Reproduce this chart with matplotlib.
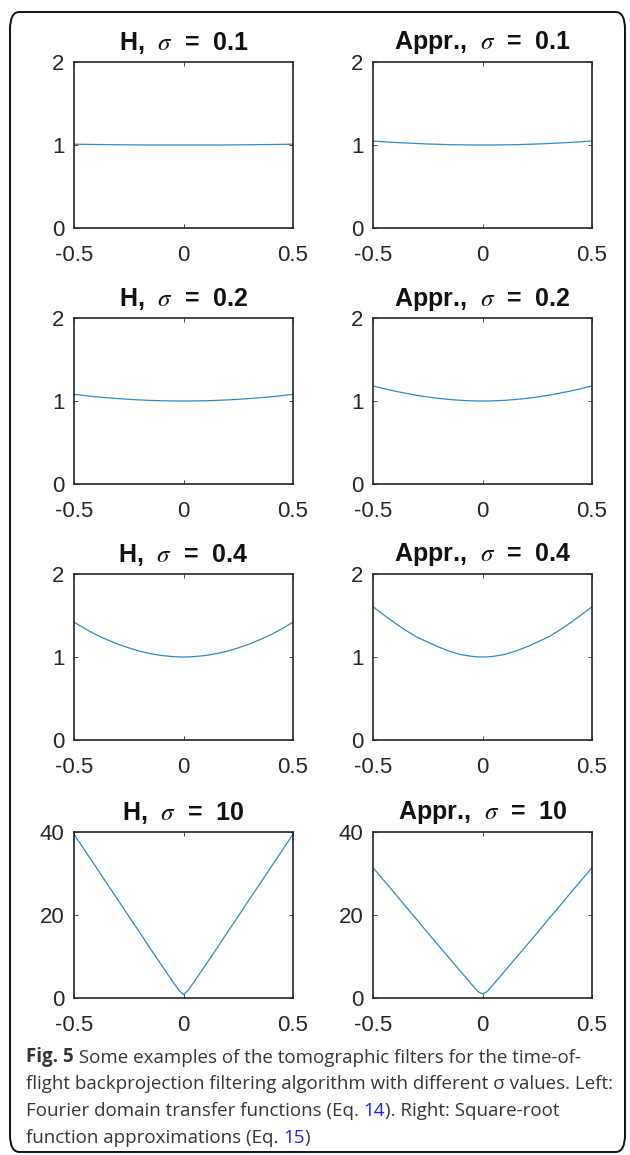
import matplotlib.pyplot as plt
from matplotlib.patches import FancyBboxPatch

# frequency samples
X = [-0.5, -0.45, -0.4, -0.35, -0.3, -0.25, -0.2, -0.15, -0.1, -0.05, -0.02, 0.0,
     0.02, 0.05, 0.1, 0.15, 0.2, 0.25, 0.3, 0.35, 0.4, 0.45, 0.5]

H_01 = [1.010, 1.008, 1.006, 1.005, 1.003, 1.002, 1.001, 1.0, 1.0, 1.0, 1.0, 1.0,
        1.0, 1.0, 1.0, 1.0, 1.001, 1.002, 1.003, 1.005, 1.006, 1.008, 1.010]
A_01 = [1.048, 1.039, 1.031, 1.024, 1.018, 1.012, 1.008, 1.004, 1.002, 1.0005, 1.0, 1.0,
        1.0, 1.0005, 1.002, 1.004, 1.008, 1.012, 1.018, 1.024, 1.031, 1.039, 1.048]
H_02 = [1.080, 1.065, 1.050, 1.040, 1.030, 1.020, 1.013, 1.007, 1.003, 1.001, 1.0, 1.0,
        1.0, 1.001, 1.003, 1.007, 1.013, 1.020, 1.030, 1.040, 1.050, 1.065, 1.080]
A_02 = [1.181, 1.149, 1.119, 1.093, 1.069, 1.048, 1.031, 1.018, 1.008, 1.002, 1.0, 1.0,
        1.0, 1.002, 1.008, 1.018, 1.031, 1.048, 1.069, 1.093, 1.119, 1.149, 1.181]
H_04 = [1.42, 1.34, 1.27, 1.21, 1.155, 1.11, 1.07, 1.04, 1.018, 1.005, 1.001, 1.0,
        1.001, 1.005, 1.018, 1.04, 1.07, 1.11, 1.155, 1.21, 1.27, 1.34, 1.42]
A_04 = [1.606, 1.505, 1.41, 1.32, 1.24, 1.18, 1.12, 1.07, 1.03, 1.008, 1.001, 1.0,
        1.001, 1.008, 1.03, 1.07, 1.12, 1.18, 1.24, 1.32, 1.41, 1.505, 1.606]
H_10 = [39.5, 35.5, 31.6, 27.6, 23.7, 19.7, 15.8, 11.8, 7.9, 4.0, 1.8, 0.8,
        1.8, 4.0, 7.9, 11.8, 15.8, 19.7, 23.7, 27.6, 31.6, 35.5, 39.5]
A_10 = [31.4, 28.3, 25.2, 22.0, 18.9, 15.7, 12.6, 9.5, 6.4, 3.3, 1.5, 1.0,
        1.5, 3.3, 6.4, 9.5, 12.6, 15.7, 18.9, 22.0, 25.2, 28.3, 31.4]

SIGMAS = ["0.1", "0.2", "0.4", "10"]
LEFT = [H_01, H_02, H_04, H_10]
RIGHT = [A_01, A_02, A_04, A_10]
YTICKS = [[0, 1, 2], [0, 1, 2], [0, 1, 2], [0, 20, 40]]

plt.rcParams.update({
    "font.family": ["Liberation Sans", "DejaVu Sans"],
    "mathtext.fontset": "stix",
})

W, H = 630, 1155
fig = plt.figure(figsize=(W / 100, H / 100), dpi=100)

# rounded frame around the whole figure (y 12..1152 px from top)
frame = FancyBboxPatch((10 / W, 3 / H), 615 / W, 1140 / H,
                       boxstyle="round,pad=0,rounding_size=0.015",
                       transform=fig.transFigure, fill=False,
                       edgecolor="#111111", linewidth=1.4)
fig.patches.append(frame)

line_c = "#3288cc"
ax_col = "#262626"
row_tops = [62, 318, 574, 832]
ax_h = 166
col_lefts = [74, 373]
ax_w = 219

for r in range(4):
    for c in range(2):
        left = col_lefts[c] / W
        bottom = 1 - (row_tops[r] + ax_h) / H
        ax = fig.add_axes([left, bottom, ax_w / W, ax_h / H])
        ys = LEFT[r] if c == 0 else RIGHT[r]
        ax.plot(X, ys, color=line_c, lw=0.9)
        ax.set_xlim(-0.5, 0.5)
        ax.set_ylim(YTICKS[r][0], YTICKS[r][-1])
        ax.set_xticks([-0.5, 0, 0.5])
        ax.set_xticklabels(["-0.5", "0", "0.5"])
        ax.set_yticks(YTICKS[r])
        ax.tick_params(direction="in", length=3, width=0.6, colors=ax_col,
                       labelsize=16, top=True, right=True)
        ax.tick_params(axis="x", pad=12)
        ax.tick_params(axis="y", pad=7)
        for s in ax.spines.values():
            s.set_linewidth(1.2)
            s.set_color(ax_col)
        name = "H," if c == 0 else "Appr.,"
        ax.set_title(name + r"  $\sigma$  =  " + SIGMAS[r], fontsize=18,
                     fontweight="bold", pad=9, color="#111111")

# caption, pieces chained so the equation links can be blue
cap_c = "#353535"
link_c = "#2222dd"
cap_font = ["Open Sans", "DejaVu Sans"]
fs = 13.5
x0 = 26 / W
baselines = [1062, 1089, 1116, 1143]

lines = [
    [("Fig. 5", cap_c, "bold"),
     (" Some examples of the tomographic filters for the time-of-", cap_c, "normal")],
    [("flight backprojection filtering algorithm with different \u03c3 values. Left:", cap_c, "normal")],
    [("Fourier domain transfer functions (Eq. ", cap_c, "normal"), ("14", link_c, "normal"),
     ("). Right: Square-root", cap_c, "normal")],
    [("function approximations (Eq. ", cap_c, "normal"), ("15", link_c, "normal"),
     (")", cap_c, "normal")],
]

anchor_ax = fig.axes[0]
for parts, y in zip(lines, baselines):
    last = None
    for txt, col, wt in parts:
        if last is None:
            last = fig.text(x0, 1 - y / H, txt, color=col, fontsize=fs,
                            fontweight=wt, family=cap_font, va="baseline")
        else:
            last = anchor_ax.annotate(txt, xy=(1, 0), xycoords=last,
                                      color=col, fontsize=fs, fontweight=wt,
                                      family=cap_font, va="bottom",
                                      annotation_clip=False)

fig.savefig("out.png", dpi=100)
